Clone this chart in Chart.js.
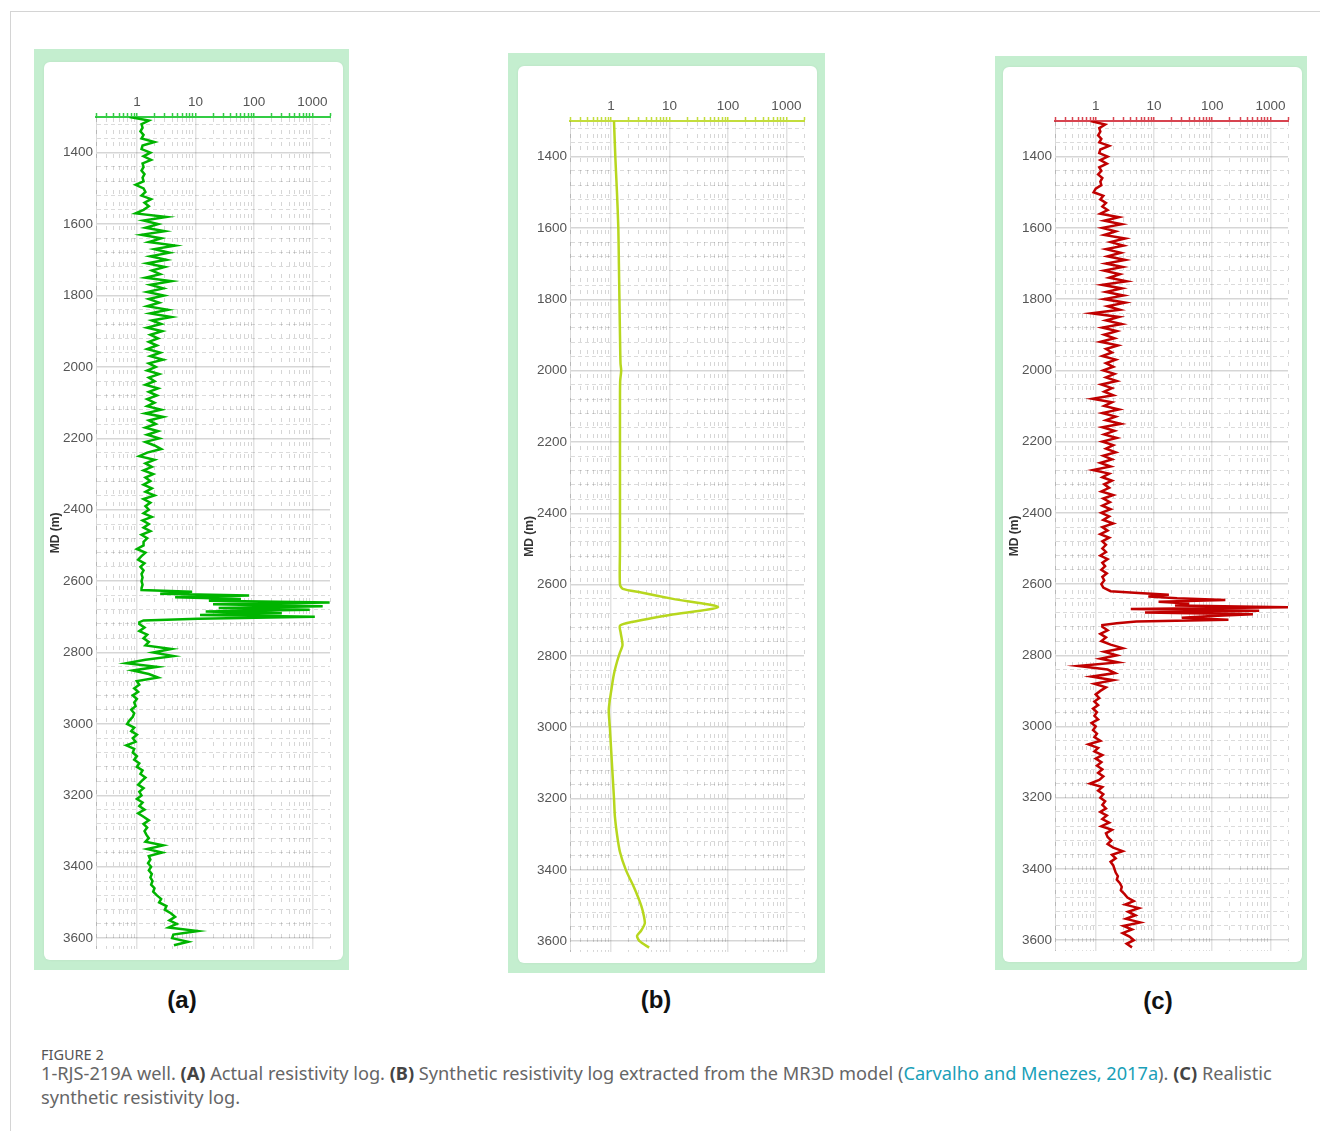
<!DOCTYPE html>
<html>
<head>
<meta charset="utf-8">
<script src="https://cdn.jsdelivr.net/npm/chart.js@4.4.1/dist/chart.umd.min.js"></script>
<style>
  body { margin:0; background:#fff; width:1320px; height:1131px; position:relative; overflow:hidden; font-family:'Noto Sans', sans-serif; }
  .card { position:absolute; left:10px; top:11px; width:1320px; height:1130px; border-top:1px solid #d4d4d4; border-left:1px solid #d4d4d4; }
  .frame { position:absolute; background:#c4eecf; }
  .inner { position:absolute; background:#fff; border-radius:6px; box-shadow:0 0 3px rgba(0,0,0,0.06); }
  canvas { position:absolute; }
  .plabel { position:absolute; font:bold 24px 'Liberation Sans', Arial, sans-serif; color:#111; transform:translate(-50%,-50%); }
  .figno { position:absolute; left:41px; top:1044px; font-size:14.5px; color:#555; }
  .caption { position:absolute; left:41px; top:1061px; width:1255px; font-size:18.2px; line-height:24px; color:#666; }
  .caption b { color:#444; }
  .caption a { color:#1a9fb8; text-decoration:none; }
</style>
</head>
<body>
<div class="card"></div>

<div class="frame" style="left:34px;top:49px;width:315px;height:921px"></div>
<div class="inner" style="left:44px;top:62px;width:299px;height:898px"></div>
<canvas id="logA" width="299" height="898" style="left:44px;top:62px"></canvas>

<div class="frame" style="left:508px;top:53px;width:317px;height:920px"></div>
<div class="inner" style="left:518px;top:66px;width:299px;height:897px"></div>
<canvas id="logB" width="299" height="897" style="left:518px;top:66px"></canvas>

<div class="frame" style="left:995px;top:56px;width:312px;height:914px"></div>
<div class="inner" style="left:1003px;top:67px;width:299px;height:895px"></div>
<canvas id="logC" width="299" height="895" style="left:1003px;top:67px"></canvas>

<div class="plabel" style="left:182px;top:1000px">(a)</div>
<div class="plabel" style="left:656px;top:1000px">(b)</div>
<div class="plabel" style="left:1158px;top:1001px">(c)</div>

<div class="figno">FIGURE 2</div>
<div class="caption">1-RJS-219A well. <b>(A)</b> Actual resistivity log. <b>(B)</b> Synthetic resistivity log extracted from the MR3D model (<a>Carvalho and Menezes, 2017a</a>). <b>(C)</b> Realistic synthetic resistivity log.</div>

<script>
// ── Data ─────────────────────────────────────────────────────────────────
// measured depth (m) for logs A and C, 10 m steps with 5 m through the peak
const depthAC = [
  1300,1310,1320,1330,1340,1350,1360,1370,1380,1390,
  1400,1410,1420,1430,1440,1450,1460,1470,1480,1490,
  1500,1510,1520,1530,1540,1550,1560,1570,1580,1590,
  1600,1610,1620,1630,1640,1650,1660,1670,1680,1690,
  1700,1710,1720,1730,1740,1750,1760,1770,1780,1790,
  1800,1810,1820,1830,1840,1850,1860,1870,1880,1890,
  1900,1910,1920,1930,1940,1950,1960,1970,1980,1990,
  2000,2010,2020,2030,2040,2050,2060,2070,2080,2090,
  2100,2110,2120,2130,2140,2150,2160,2170,2180,2190,
  2200,2210,2220,2230,2240,2250,2260,2270,2280,2290,
  2300,2310,2320,2330,2340,2350,2360,2370,2380,2390,
  2400,2410,2420,2430,2440,2450,2460,2470,2480,2490,
  2500,2510,2520,2530,2540,2550,2560,2570,2580,2590,
  2600,2610,2620,
  2625,2630,2635,2640,2645,2650,2655,2660,2665,2670,
  2675,2680,2685,2690,2695,2700,2705,2710,2715,
  2720,2730,2740,2750,2760,2770,2780,
  2790,2800,2810,2820,2830,2840,2850,2860,2870,2880,
  2890,2900,2910,2920,2930,2940,2950,2960,2970,2980,2990,
  3000,3010,3020,3030,3040,3050,3060,3070,3080,3090,3100,
  3110,3120,3130,3140,3150,3160,3170,3180,3190,3200,
  3210,3220,3230,3240,3250,3260,3270,3280,3290,3300,
  3310,3320,3330,3340,3350,3360,3370,3380,3390,3400,
  3410,3420,3430,3440,3450,3460,3470,
  3480,3490,3500,3510,3520,3530,
  3540,3550,3560,3570,3580,3590,3600,3610,3620
];

// (a) actual resistivity log (ohm.m)
const resActual = [
  0.75,1.6,1.2,1.25,1.15,1.3,1.2,2.0,1.25,1.2,
  1.7,1.3,1.75,1.25,1.3,1.2,1.35,1.25,1.3,0.95,
  1.3,1.4,1.2,1.75,1.35,1.6,1.3,0.95,3.2,1.3,
  2.3,1.4,3.0,1.2,2.6,1.6,4.5,2.0,3.6,1.7,
  3.2,1.5,3.0,1.8,2.5,1.4,3.9,1.7,2.8,1.5,
  2.9,1.6,2.4,1.5,3.4,1.7,3.9,1.8,2.6,1.5,
  2.7,1.7,2.3,1.6,2.2,1.5,2.5,1.7,2.8,1.6,
  2.1,1.5,2.4,1.6,2.0,1.4,2.3,1.6,2.2,1.5,
  2.0,1.5,2.6,1.4,2.8,1.6,2.1,1.4,2.3,1.5,
  2.4,1.4,2.0,2.6,1.5,1.1,2.0,1.4,1.8,1.3,
  1.9,1.4,1.7,1.3,1.8,1.4,2.0,1.3,1.7,1.4,
  1.6,1.3,1.8,1.25,1.6,1.3,1.7,1.2,1.5,1.3,
  1.3,1.0,1.4,1.2,1.05,1.35,1.15,1.3,1.2,1.25,
  1.2,1.25,1.2,
  1.2,8.8,2.5,83,4.5,60,17,1970,20,1500,
  25,900,15,300,12,1100,11,1.3,1.1,
  1.1,1.35,1.1,1.5,1.3,1.6,1.4,
  3.9,1.9,4.2,1.4,0.66,2.2,0.85,1.6,2.3,1.0,
  1.1,0.9,1.05,0.85,1.0,0.9,0.95,0.8,0.9,0.85,0.75,
  0.68,0.9,0.8,1.0,0.85,0.95,0.66,0.9,0.85,1.0,0.9,
  1.1,1.0,1.25,1.15,1.4,1.2,1.05,1.3,1.1,1.2,
  1.0,1.25,1.1,1.35,1.05,1.3,1.6,1.3,1.5,1.35,
  1.45,1.6,1.4,2.8,1.5,2.7,1.6,1.7,1.55,1.75,
  1.6,1.8,1.7,1.85,1.75,2.0,1.9,
  2.2,2.6,2.4,3.2,3.0,3.8,
  4.5,3.6,4.8,3.5,11,4.2,4.0,7.5,4.3
];

// (c) realistic synthetic resistivity log (ohm.m)
const resRealistic = [
  0.82,1.45,1.15,1.2,1.1,1.25,1.15,1.7,1.2,1.15,
  1.6,1.2,1.55,1.15,1.25,1.1,1.3,1.2,1.25,1.0,
  0.92,1.35,1.2,1.5,1.3,1.6,1.2,2.5,1.4,2.8,
  1.3,2.2,1.4,3.2,1.8,3.0,1.5,2.7,1.6,3.2,
  1.5,2.9,1.4,2.6,1.7,3.4,1.3,2.8,1.5,3.0,
  1.4,3.2,1.6,2.6,0.85,2.5,1.5,2.8,1.3,2.3,
  1.4,2.1,1.2,2.4,1.5,1.9,1.3,2.2,1.5,2.0,
  1.35,2.1,1.5,2.3,1.25,1.9,1.4,2.0,0.88,1.9,
  1.4,2.5,1.3,2.2,1.5,2.7,1.3,2.1,1.4,2.3,
  1.3,2.0,1.5,2.2,1.35,1.9,1.2,1.8,0.9,1.7,
  1.3,1.9,1.4,1.7,1.25,2.0,1.35,1.75,1.3,1.8,
  1.25,1.7,1.35,2.0,1.3,1.6,1.2,1.7,1.3,1.5,
  1.3,1.5,1.2,1.6,1.3,1.45,1.25,1.55,1.3,1.4,
  1.25,1.35,1.8,
  5.4,18,8,25,168,12,40,23,2100,4.0,
  640,7,500,100,30,190,5,2.3,1.3,
  1.3,1.6,1.2,1.5,1.25,1.8,2.9,
  1.4,2.3,1.2,2.4,0.5,1.6,2.15,0.85,2.0,0.95,
  1.5,1.2,1.0,1.15,0.95,1.1,0.9,1.05,0.95,1.1,0.85,
  1.0,0.9,1.05,0.95,1.2,0.75,1.1,0.95,1.3,1.0,1.25,
  1.05,1.3,1.1,1.35,1.15,0.8,1.3,1.1,1.35,1.2,
  1.45,1.3,1.5,1.2,1.55,1.3,1.7,1.25,1.9,1.5,
  1.6,1.85,1.6,2.0,2.9,1.9,2.2,1.8,2.0,2.1,
  2.2,2.4,2.3,2.6,2.8,2.7,3.1,
  3.5,4.5,3.2,5.5,3.6,4.8,
  3.3,5.8,3.0,4.2,2.9,3.8,4.5,3.4,4.2
];

// (b) synthetic log from the MR3D model
const depthB = [
  1300,1400,1500,1600,1700,1800,1900,1980,2000,2030,2100,2200,2300,2400,2500,2600,
  2612,2622,2640,2663,2685,2704,2715,2735,2770,2790,2815,2850,2890,2950,3000,
  3100,3200,3250,3300,3350,3400,3450,3500,3530,3550,3570,3585,3600,3618
];
const resSynthetic = [
  1.13,1.19,1.27,1.34,1.37,1.40,1.43,1.46,1.50,1.44,1.43,1.43,1.43,1.43,1.43,1.43,
  1.6,3.3,11.5,68,10.2,2.4,1.43,1.47,1.58,1.43,1.28,1.13,1.03,0.92,0.96,
  1.04,1.13,1.17,1.27,1.43,1.8,2.5,3.3,3.67,3.8,3.3,2.8,3.1,4.5
];

// axes
const xTickValues = [0.2,0.3,0.4,0.5,0.6,0.7,0.8,0.9,1,2,3,4,5,6,7,8,9,10,20,30,40,50,60,70,80,90,
  100,200,300,400,500,600,700,800,900,1000,2000];
const xTickLabels = [1, 10, 100, 1000];
const yTickLabels = [1400,1600,1800,2000,2200,2400,2600,2800,3000,3200,3400,3600];
const DEPTH_MIN = 1300, DEPTH_MAX = 3630, RES_MIN = 0.2, RES_MAX = 2000;

const TICK_FONT = { family: "'Liberation Sans', Arial, sans-serif", size: 13.5 };

// minor depth grid every 40 m
const yGridValues = [];
for (let v = 1320; v < DEPTH_MAX; v += 40) yGridValues.push(v);

// ── Chart builder ───────────────────────────────────────────────────────
function makeLog(id, geo, depth, values, lineColor, axisColor, tension) {
  const points = depth.map((d, i) => ({ x: values[i], y: d }));
  new Chart(document.getElementById(id), {
    type: 'scatter',
    data: {
      datasets: [{
        data: points,
        showLine: true,
        borderColor: lineColor,
        borderWidth: 2.5,
        pointRadius: 0,
        tension: tension,
        fill: false
      }]
    },
    options: {
      responsive: false,
      animation: false,
      layout: { padding: { left: 4, right: geo.r, top: 0, bottom: geo.b } },
      plugins: { legend: { display: false }, tooltip: { enabled: false } },
      scales: {
        x: {
          type: 'logarithmic',
          position: 'top',
          min: RES_MIN, max: RES_MAX,
          afterBuildTicks: s => { s.ticks = xTickValues.map(v => ({ value: v })); },
          afterFit: s => { s.height = geo.t; },
          ticks: {
            autoSkip: false, maxRotation: 0, minRotation: 0, padding: 3,
            color: '#555', font: TICK_FONT,
            callback: v => xTickLabels.includes(v) ? String(v) : ''
          },
          grid: {
            color: ctx => (ctx.tick && xTickLabels.includes(ctx.tick.value)) ? 'rgba(0,0,0,0.11)' : 'rgba(0,0,0,0.16)',
            lineWidth: ctx => (ctx.tick && xTickLabels.includes(ctx.tick.value)) ? 1.5 : 1,
            tickColor: axisColor, tickLength: 4, tickWidth: 1.5
          },
          border: {
            color: axisColor, width: 2,
            dash: ctx => (ctx.tick && !xTickLabels.includes(ctx.tick.value)) ? [4, 8] : []
          }
        },
        y: {
          type: 'linear',
          reverse: true,
          min: DEPTH_MIN, max: DEPTH_MAX,
          afterBuildTicks: s => { s.ticks = yGridValues.map(v => ({ value: v })); },
          afterFit: s => { s.width = geo.l - 4; },
          ticks: {
            autoSkip: false, padding: 3,
            color: '#555', font: TICK_FONT,
            callback: v => yTickLabels.includes(v) ? String(v) : ''
          },
          grid: {
            drawTicks: false,
            color: ctx => (ctx.tick && yTickLabels.includes(ctx.tick.value)) ? 'rgba(0,0,0,0.16)' : 'rgba(0,0,0,0.14)',
            lineWidth: ctx => (ctx.tick && yTickLabels.includes(ctx.tick.value)) ? 1.5 : 1
          },
          border: {
            color: 'rgba(0,0,0,0.15)', width: 1,
            dash: ctx => (ctx.tick && !yTickLabels.includes(ctx.tick.value)) ? [4, 3] : []
          },
          title: {
            display: true, text: 'MD (m)', color: '#333', padding: 0,
            font: { family: "'Liberation Sans', Arial, sans-serif", size: 12, weight: 'bold' }
          }
        }
      }
    }
  });
}

makeLog('logA', { l: 52, t: 55, r: 13, b: 4 }, depthAC, resActual, '#00b400', '#33cc44', 0);
makeLog('logB', { l: 52, t: 55, r: 13, b: 3 }, depthB, resSynthetic, '#b7d71e', '#c3dd3c', 0.25);
makeLog('logC', { l: 52, t: 54, r: 14, b: 1 }, depthAC, resRealistic, '#c00000', '#d84450', 0);
</script>
</body>
</html>
